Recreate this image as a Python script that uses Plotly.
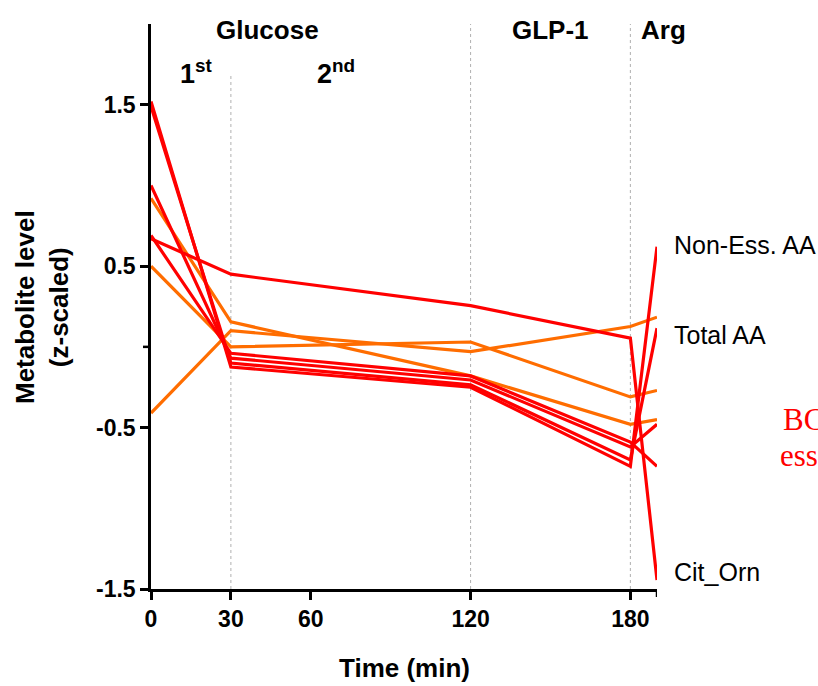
import plotly.graph_objects as go

# ---------------- data ----------------
times = [0, 30, 120, 180, 190]

red_series = {
    "Cit_Orn":     [0.67, 0.45, 0.255, 0.054, -1.445],
    "Non-Ess. AA": [1.52, -0.125, -0.25, -0.74, 0.62],
    "Total AA":    [1.49, -0.10, -0.235, -0.70, 0.116],
    "red_4":       [1.00, -0.07, -0.205, -0.62, -0.48],
    "red_5":       [0.69, -0.04, -0.18, -0.59, -0.74],
}
orange_series = {
    "orange_A": [0.92, 0.155, -0.18, -0.48, -0.45],
    "orange_B": [-0.41, 0.10, -0.03, 0.126, 0.184],
    "orange_C": [0.50, 0.0, 0.03, -0.31, -0.27],
}

x_tickvals = [0, 30, 60, 120, 180]
x_ticktext = ["0", "30", "60", "120", "180"]
x_extra_ticks = [190]          # unlabeled tick at the end of the axis
y_tickvals = [1.5, 0.5, -0.5, -1.5]
y_ticktext = ["1.5", "0.5", "-0.5", "-1.5"]
y_extra_ticks = [0]            # unlabeled tick at zero

phase_lines = [(30, 1.68), (120, 2.0), (180, 2.0)]
phase_labels = [("Glucose", 267), ("GLP-1", 550), ("Arg", 663)]
sub_labels = [("1<sup>st</sup>", 196), ("2<sup>nd</sup>", 336)]
end_labels = [("Non-Ess. AA", 245), ("Total AA", 335), ("Cit_Orn", 572)]

RED = "#ff0000"
ORANGE = "#ff6d00"
FONT = "Liberation Sans, Arial, sans-serif"

# ---------------- layout geometry ----------------
W, H = 818, 686
L, R, T, B = 151, 161, 24, 97
PW, PH = W - L - R, H - T - B
TICKLEN = 8


def px2x(px):
    return (px - L) / PW


def py2y(py):
    return (H - B - py) / PH


fig = go.Figure()

for name, vals in orange_series.items():
    fig.add_trace(go.Scatter(x=times, y=vals, mode="lines", name=name,
                             line=dict(color=ORANGE, width=3.2), showlegend=False))
for name, vals in red_series.items():
    fig.add_trace(go.Scatter(x=times, y=vals, mode="lines", name=name,
                             line=dict(color=RED, width=3.2), showlegend=False))

shapes = []
for xv, ytop in phase_lines:
    shapes.append(dict(type="line", xref="x", yref="y", x0=xv, x1=xv, y0=-1.5, y1=ytop,
                       line=dict(color="#b0b0b0", width=1, dash="dot"), layer="below"))
for yv in y_extra_ticks:
    shapes.append(dict(type="line", xref="paper", yref="y", x0=px2x(L - TICKLEN), x1=0,
                       y0=yv, y1=yv, line=dict(color="black", width=2.5)))
for xv in x_extra_ticks:
    shapes.append(dict(type="line", xref="x", yref="paper", x0=xv, x1=xv,
                       y0=py2y(H - B + TICKLEN), y1=0, line=dict(color="black", width=2.5)))

annotations = []
for txt, cx in phase_labels:
    annotations.append(dict(text=txt, xref="paper", yref="paper", x=px2x(cx), y=py2y(30),
                            xanchor="center", yanchor="middle", showarrow=False,
                            font=dict(family=FONT, size=26, color="black", weight="bold")))
for txt, cx in sub_labels:
    annotations.append(dict(text=txt, xref="paper", yref="paper", x=px2x(cx), y=py2y(72),
                            xanchor="center", yanchor="middle", showarrow=False,
                            font=dict(family=FONT, size=27, color="black", weight="bold")))
for txt, cy in end_labels:
    annotations.append(dict(text=txt, xref="paper", yref="paper", x=px2x(672), y=py2y(cy),
                            xanchor="left", yanchor="middle", showarrow=False,
                            font=dict(family=FONT, size=25, color="black")))
# red serif text cut off at the right edge, as in the reference
annotations.append(dict(text="BC", xref="paper", yref="paper", x=px2x(781), y=py2y(420),
                        xanchor="left", yanchor="middle", showarrow=False,
                        font=dict(family="Liberation Serif, serif", size=31, color="red")))
annotations.append(dict(text="ess", xref="paper", yref="paper", x=px2x(778), y=py2y(455),
                        xanchor="left", yanchor="middle", showarrow=False,
                        font=dict(family="Liberation Serif, serif", size=31, color="red")))
# axis titles
annotations.append(dict(text="Metabolite level<br>(z-scaled)", xref="paper", yref="paper",
                        x=px2x(42), y=py2y(307), xanchor="center", yanchor="middle",
                        showarrow=False, textangle=-90,
                        font=dict(family=FONT, size=26, color="black", weight="bold")))
annotations.append(dict(text="Time (min)", xref="paper", yref="paper",
                        x=px2x(404), y=py2y(668), xanchor="center", yanchor="middle",
                        showarrow=False,
                        font=dict(family=FONT, size=26, color="black", weight="bold")))

fig.update_layout(
    width=W, height=H,
    margin=dict(l=L, r=R, t=T, b=B, pad=0),
    paper_bgcolor="white", plot_bgcolor="white",
    shapes=shapes, annotations=annotations,
    xaxis=dict(range=[0, 190], tickvals=x_tickvals, ticktext=x_ticktext,
               showgrid=False, zeroline=False, showline=True, linecolor="black",
               linewidth=2.5, ticks="outside", ticklen=TICKLEN, tickwidth=2.5, tickcolor="black",
               tickfont=dict(family=FONT, size=23, color="black", weight="bold")),
    yaxis=dict(range=[-1.5, 2.0], tickvals=y_tickvals, ticktext=y_ticktext,
               showgrid=False, zeroline=False, showline=True, linecolor="black",
               linewidth=2.5, ticks="outside", ticklen=TICKLEN, tickwidth=2.5, tickcolor="black",
               tickfont=dict(family=FONT, size=23, color="black", weight="bold")),
)

fig.write_html("out.html", config={"displayModeBar": False},
               post_script="document.body.style.margin='0';document.body.style.overflow='hidden';")
